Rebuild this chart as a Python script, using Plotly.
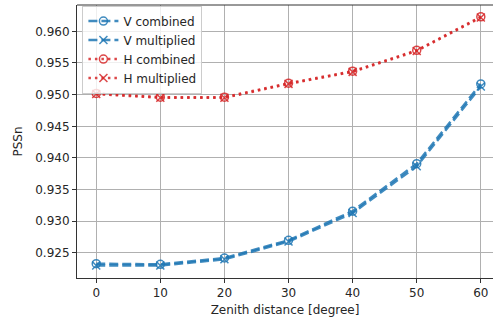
import plotly.graph_objects as go

zenith = [0, 10, 20, 30, 40, 50, 60]
v_combined = [0.9233, 0.9232, 0.9242, 0.9270, 0.9316, 0.9391, 0.9517]
v_multiplied = [0.9230, 0.9230, 0.9240, 0.9268, 0.9313, 0.9387, 0.9513]
h_combined = [0.9502, 0.9496, 0.9496, 0.9518, 0.9537, 0.9570, 0.9623]
h_multiplied = [0.9501, 0.9495, 0.9495, 0.9517, 0.9536, 0.9569, 0.9622]

x_ticks = [0, 10, 20, 30, 40, 50, 60]
y_ticks = [0.925, 0.930, 0.935, 0.940, 0.945, 0.950, 0.955, 0.960]

BLUE = "rgba(31,119,180,0.85)"
RED = "rgba(214,39,40,0.85)"
DASH = "9px,4px"
DOT = "2.5px,4px"

series = [
    ("V combined", v_combined, BLUE, DASH, "circle-open"),
    ("V multiplied", v_multiplied, BLUE, DASH, "x-thin-open"),
    ("H combined", h_combined, RED, DOT, "circle-open"),
    ("H multiplied", h_multiplied, RED, DOT, "x-thin-open"),
]

fig = go.Figure()
for name, vals, col, dash, sym in series:
    fig.add_trace(go.Scatter(
        x=zenith, y=vals, name=name, mode="lines+markers",
        line=dict(color=col, width=2.5, dash=dash),
        marker=dict(symbol=sym, size=8, color=col, line=dict(color=col, width=1.5)),
    ))

font = "DejaVu Sans, sans-serif"
fig.update_layout(
    width=493, height=321,
    margin=dict(l=77, r=0, t=5, b=43),
    paper_bgcolor="white", plot_bgcolor="white",
    font=dict(family=font, size=12, color="#262626"),
    showlegend=True,
    legend=dict(
        x=0.013, y=0.998, xanchor="left", yanchor="top",
        bgcolor="rgba(255,255,255,0.8)", bordercolor="#cccccc", borderwidth=1,
        font=dict(family=font, size=12, color="#262626"),
        itemwidth=30, tracegroupgap=0,
    ),
    xaxis=dict(
        range=[-3, 61.9], tickvals=x_ticks, ticks="outside", ticklen=4,
        tickcolor="#333", showline=True, linecolor="#333", linewidth=1,
        mirror=False, showgrid=True, gridcolor="#b0b0b0", gridwidth=1,
        zeroline=False,
        title=dict(text="Zenith distance [degree]", font=dict(size=12), standoff=6),
        tickfont=dict(size=12),
    ),
    yaxis=dict(
        range=[0.92104, 0.96416], tickvals=y_ticks, tickformat=".3f",
        ticks="outside", ticklen=4, tickcolor="#333",
        showline=True, linecolor="#333", linewidth=1,
        showgrid=True, gridcolor="#b0b0b0", gridwidth=1, zeroline=False,
        title=dict(text="PSSn", font=dict(size=12), standoff=10),
        tickfont=dict(size=12),
    ),
)
# top spine
fig.add_shape(type="line", xref="paper", yref="paper", x0=0, x1=1, y0=1, y1=1,
              line=dict(color="#333", width=1))

fig.write_html("out.html", config={"displayModeBar": False},
               post_script="document.body.style.margin='0';")
